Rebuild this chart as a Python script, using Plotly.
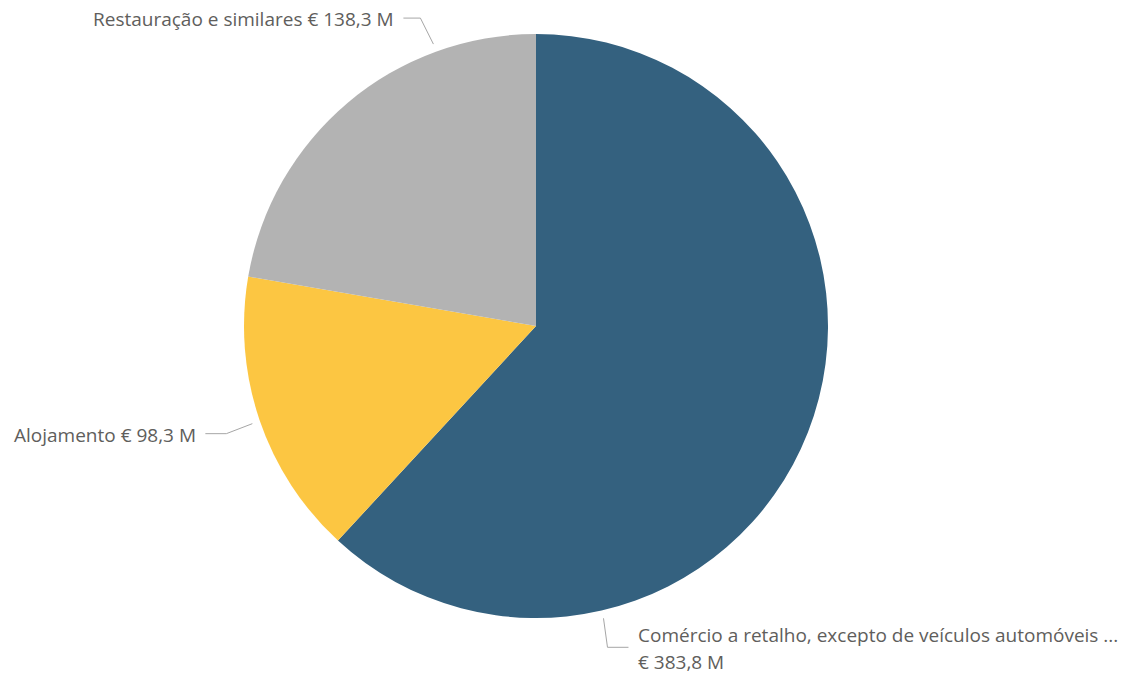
import math
import plotly.graph_objects as go

# ---- data ----
categories = ["Comércio a retalho, excepto de veículos automóveis ...", "Alojamento", "Restauração e similares"]
values = [383.8, 98.3, 138.3]  # € milhões

# ---- style / layout ----
colors = ["#34617F", "#FCC642", "#B3B3B3"]
W, H = 1127, 673
OFF = 8                             # page body margin
CX, CY, R = 536 - OFF, 326 - OFF, 292  # pie centre and radius in pixels
leader_angles = [167, 251, 340]    # clockwise from 12 o'clock, degrees
text_color = "#605E5C"
line_color = "#A6A6A6"
FONT = "Open Sans"
FS = 19


def px(x, y):
    return x / W, 1 - y / H


def fmt(v):
    return "€ " + f"{v:.1f}".replace(".", ",") + " M"


fig = go.Figure(go.Pie(
    labels=categories, values=values, sort=False, direction="clockwise", rotation=0,
    marker=dict(colors=colors, line=dict(width=0)), textinfo="none", hoverinfo="label+value",
    domain=dict(x=[(CX - R) / W, (CX + R) / W], y=[1 - (CY + R) / H, 1 - (CY - R) / H]),
    showlegend=False,
))

# leader lines: (elbow offset, end offset, text anchor)
geo = [
    ((4, 29), (25, 29), "left"),
    ((-26, 10), (-47, 10), "right"),
    ((-13, -26), (-30, -26), "right"),
]
shapes, annotations = [], []
for i, (cat, v) in enumerate(zip(categories, values)):
    a = math.radians(leader_angles[i])
    x0 = CX + (R + 8) * math.sin(a)
    y0 = CY - (R + 8) * math.cos(a)
    (ex, ey), (fx, fy), side = geo[i]
    x1, y1 = x0 + ex, y0 + ey
    x2, y2 = x0 + fx, y0 + fy
    p0, p1, p2 = px(x0, y0), px(x1, y1), px(x2, y2)
    shapes.append(dict(type="path", xref="paper", yref="paper",
                       path=f"M {p0[0]} {p0[1]} L {p1[0]} {p1[1]} L {p2[0]} {p2[1]}",
                       line=dict(color=line_color, width=1)))
    if side == "right":
        tx, ty = px(x2 - 7, y2 + 1)
        annotations.append(dict(x=tx, y=ty, xref="paper", yref="paper", text=f"{cat} {fmt(v)}",
                                showarrow=False, xanchor="right", yanchor="middle",
                                font=dict(family=FONT, size=FS, color=text_color)))
    else:
        tx, ty = px(x2 + 8, y2 - 12)
        annotations.append(dict(x=tx, y=ty, xref="paper", yref="paper", text=cat,
                                showarrow=False, xanchor="left", yanchor="middle",
                                font=dict(family=FONT, size=FS, color=text_color)))
        tx, ty = px(x2 + 8, y2 + 15)
        annotations.append(dict(x=tx, y=ty, xref="paper", yref="paper", text=fmt(v),
                                showarrow=False, xanchor="left", yanchor="middle",
                                font=dict(family=FONT, size=FS, color=text_color)))

fig.update_layout(width=W, height=H, margin=dict(l=0, r=0, t=0, b=0),
                  paper_bgcolor="white", plot_bgcolor="white",
                  shapes=shapes, annotations=annotations)
fig.write_html("out.html")
